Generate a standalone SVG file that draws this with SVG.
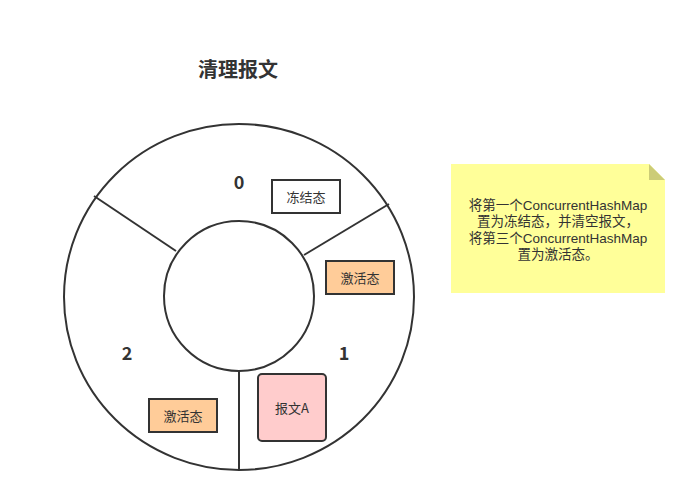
<svg xmlns="http://www.w3.org/2000/svg" width="697" height="503" viewBox="0 0 697 503">
<style>
.ln{fill:none;stroke:#333;stroke-width:2}
.box{stroke:#333;stroke-width:2}
.t{font-family:"Noto Sans CJK SC","Liberation Sans",sans-serif;font-size:13px;fill:#333;text-anchor:middle;dominant-baseline:central}
.n{font-family:"Liberation Sans","Noto Sans CJK SC",sans-serif;font-size:13.5px}
.b{font-family:"Noto Sans CJK SC","Liberation Sans",sans-serif;font-size:18px;font-weight:bold;fill:#333;text-anchor:middle;dominant-baseline:central}
.h{font-size:20px}
</style>
<rect width="697" height="503" fill="#fff"/>
<text class="b h" x="238" y="68">清理报文</text>
<g id="ring">
<ellipse class="ln" cx="239" cy="297" rx="175" ry="173"/>
<ellipse class="ln" cx="239" cy="296" rx="75" ry="75"/>
</g>
<g id="connectors">
<line class="ln" x1="94" y1="196" x2="176" y2="251"/>
<line class="ln" x1="389" y1="204" x2="304" y2="255"/>
<line class="ln" x1="239" y1="371" x2="239" y2="470"/>
</g>
<g id="label0"><text class="b" x="239" y="181">0</text></g>
<g id="label1"><text class="b" x="344" y="352">1</text></g>
<g id="label2"><text class="b" x="127" y="352">2</text></g>
<g id="frozen"><rect class="box" x="272" y="180" width="68" height="33" fill="#fff"/><text class="t" x="306" y="196.5">冻结态</text></g>
<g id="active1"><rect class="box" x="326" y="261" width="68" height="33" fill="#FFCC99"/><text class="t" x="360" y="277.5">激活态</text></g>
<g id="active2"><rect class="box" x="149" y="399" width="68" height="33" fill="#FFCC99"/><text class="t" x="183" y="415.5">激活态</text></g>
<g id="msgA"><rect class="box" x="258" y="374" width="68" height="67" rx="4" fill="#FFCCCC"/><text class="t" x="292" y="407.5">报文A</text></g>
<g id="note">
<path d="M451 164 H649 L665 180 V293 H451 Z" fill="#FFFF99"/>
<path d="M649 164 L665 180 H649 Z" fill="#CCCC77"/>
<text class="t n" x="558" y="205">将第一个ConcurrentHashMap</text>
<text class="t n" x="558" y="221.5">置为冻结态，并清空报文，</text>
<text class="t n" x="558" y="238">将第三个ConcurrentHashMap</text>
<text class="t n" x="558" y="254.5">置为激活态。</text>
</g>
</svg>
